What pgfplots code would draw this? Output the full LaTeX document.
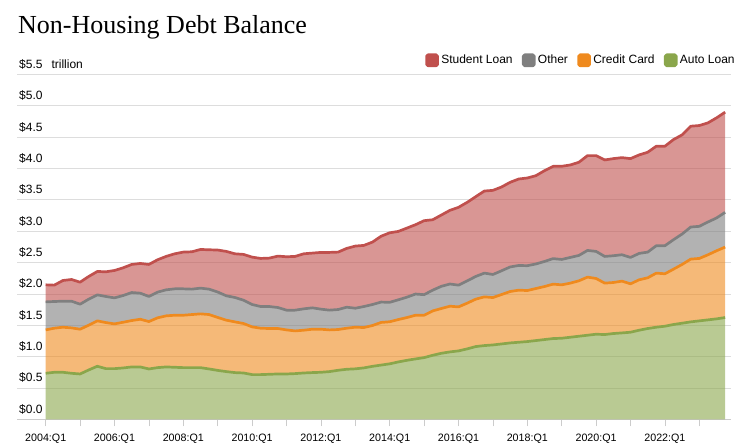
\documentclass[border=0pt]{standalone}
\usepackage{pgfplots}
\pgfplotsset{compat=1.18}
\usepackage{pgfplotstable}
\usepgfplotslibrary{fillbetween}
\usepackage{fontspec}
\setmainfont{Liberation Sans}
\newfontfamily\titlefont{Liberation Serif}
\definecolor{cRed}{HTML}{C0504D}
\definecolor{cGray}{HTML}{7F7F7F}
\definecolor{cOrange}{HTML}{EF8A1E}
\definecolor{cGreen}{HTML}{8AA64B}
\definecolor{gridgray}{HTML}{DDDDDD}
\definecolor{axisgray}{HTML}{CCCCCC}
\pgfplotstableread{
i A C O S
0 0.734 0.692 0.447 0.272
1 0.750 0.703 0.426 0.261
2 0.750 0.719 0.415 0.330
3 0.734 0.724 0.426 0.346
4 0.723 0.714 0.399 0.351
5 0.787 0.714 0.415 0.362
6 0.846 0.724 0.415 0.373
7 0.808 0.735 0.416 0.394
8 0.808 0.714 0.415 0.437
9 0.819 0.729 0.426 0.442
10 0.835 0.740 0.447 0.448
11 0.835 0.761 0.416 0.474
12 0.803 0.756 0.400 0.511
13 0.824 0.794 0.410 0.516
14 0.835 0.815 0.415 0.533
15 0.830 0.830 0.421 0.559
16 0.824 0.836 0.421 0.586
17 0.824 0.847 0.405 0.596
18 0.824 0.858 0.410 0.617
19 0.803 0.868 0.405 0.628
20 0.780 0.845 0.405 0.670
21 0.761 0.820 0.389 0.708
22 0.745 0.809 0.389 0.697
23 0.739 0.789 0.372 0.730
24 0.713 0.761 0.357 0.756
25 0.713 0.740 0.346 0.767
26 0.718 0.730 0.351 0.772
27 0.723 0.725 0.335 0.820
28 0.723 0.703 0.315 0.852
29 0.729 0.681 0.331 0.857
30 0.739 0.682 0.341 0.878
31 0.745 0.692 0.341 0.873
32 0.750 0.687 0.320 0.905
33 0.761 0.665 0.315 0.921
34 0.782 0.650 0.319 0.916
35 0.798 0.655 0.335 0.938
36 0.805 0.664 0.303 0.991
37 0.820 0.644 0.335 0.975
38 0.845 0.651 0.335 0.996
39 0.865 0.680 0.325 1.050
40 0.885 0.671 0.310 1.109
41 0.915 0.676 0.315 1.091
42 0.941 0.682 0.325 1.102
43 0.963 0.697 0.338 1.106
44 0.984 0.676 0.328 1.180
45 1.021 0.708 0.331 1.123
46 1.053 0.714 0.354 1.137
47 1.075 0.729 0.354 1.175
48 1.091 0.702 0.347 1.241
49 1.123 0.729 0.356 1.252
50 1.160 0.756 0.362 1.273
51 1.176 0.777 0.379 1.309
52 1.186 0.756 0.368 1.342
53 1.202 0.788 0.379 1.336
54 1.218 0.820 0.392 1.350
55 1.229 0.831 0.394 1.379
56 1.240 0.814 0.396 1.399
57 1.256 0.830 0.392 1.408
58 1.272 0.846 0.400 1.448
59 1.288 0.868 0.407 1.472
60 1.293 0.852 0.405 1.486
61 1.309 0.863 0.410 1.475
62 1.325 0.884 0.405 1.486
63 1.341 0.927 0.426 1.512
64 1.357 0.889 0.432 1.528
65 1.352 0.820 0.426 1.539
66 1.368 0.814 0.427 1.549
67 1.378 0.826 0.421 1.549
68 1.389 0.772 0.421 1.576
69 1.421 0.804 0.421 1.571
70 1.448 0.809 0.410 1.593
71 1.469 0.863 0.437 1.587
72 1.485 0.836 0.448 1.587
73 1.512 0.883 0.470 1.597
74 1.533 0.937 0.485 1.582
75 1.554 1.001 0.512 1.608
76 1.570 0.996 0.512 1.608
77 1.586 1.038 0.523 1.581
78 1.602 1.086 0.523 1.597
79 1.623 1.124 0.554 1.598
}\debt
\begin{document}
\begin{tikzpicture}[x=1pt,y=1pt]
\node[anchor=base west, inner sep=0pt, font=\titlefont\fontsize{26}{30}\selectfont] at (18,413.7) {Non-Housing Debt Balance};
\begin{axis}[
  set layers,
  at={(17pt,27.7pt)}, anchor=south west,
  scale only axis, width=713.7pt, height=344.8pt,
  xmin=-3.337, xmax=79.65, ymin=0, ymax=5.5,
  axis x line*=bottom, axis y line*=left,
  x axis line style={draw=axisgray, line width=0.8pt},
  y axis line style={draw=none},
  ymajorgrids, grid style={draw=gridgray, line width=0.8pt},
  ytick={0,0.5,...,5.5},
  yticklabels={\$0.0,\$0.5,\$1.0,\$1.5,\$2.0,\$2.5,\$3.0,\$3.5,\$4.0,\$4.5,\$5.0,\$5.5\hspace{9pt}trillion},
  ytick style={draw=none},
  yticklabel style={anchor=base west, inner sep=0pt, xshift=9pt, yshift=6pt, font=\fontsize{12}{14}\selectfont},
  xtick={0,4,...,76},
  xticklabels={2004:Q1,{},2006:Q1,{},2008:Q1,{},2010:Q1,{},2012:Q1,{},2014:Q1,{},2016:Q1,{},2018:Q1,{},2020:Q1,{},2022:Q1,{}},
  tick align=outside, major tick length=7pt,
  xtick style={draw=axisgray, line width=0.8pt},
  xticklabel style={anchor=north, inner sep=0pt, yshift=-7.5pt, font=\fontsize{10.7}{12}\selectfont},
  legend columns=4,
  legend style={draw=none, fill=none, at={(1.0100,1.0412)}, anchor=east,
    font=\fontsize{12}{14}\selectfont, nodes={inner sep=0pt},
    /tikz/every odd column/.append style={column sep=2.3pt},
    /tikz/every even column/.append style={column sep=9.3pt}},
  legend cell align=left,
]
\addplot[forget plot, draw=none, name path=base] coordinates {(0,0) (79,0)};
\addplot[draw=cRed, line width=2.7pt, line join=round, name path=R,
  legend image code/.code={\fill[cRed, rounded corners=1.5pt] (0pt,-5.5pt) rectangle (11pt,5.5pt);}]
  table[x=i, y expr=\thisrow{A}+\thisrow{C}+\thisrow{O}+\thisrow{S}] {\debt};
\addlegendentry{Student Loan}
\addplot[draw=cGray, line width=2.7pt, line join=round, name path=Gr,
  legend image code/.code={\fill[cGray, rounded corners=1.5pt] (0pt,-5.5pt) rectangle (11pt,5.5pt);}]
  table[x=i, y expr=\thisrow{A}+\thisrow{C}+\thisrow{O}] {\debt};
\addlegendentry{Other}
\addplot[draw=cOrange, line width=2.7pt, line join=round, name path=Or,
  legend image code/.code={\fill[cOrange, rounded corners=1.5pt] (0pt,-5.5pt) rectangle (11pt,5.5pt);}]
  table[x=i, y expr=\thisrow{A}+\thisrow{C}] {\debt};
\addlegendentry{Credit Card}
\addplot[draw=cGreen, line width=2.7pt, line join=round, name path=G,
  legend image code/.code={\fill[cGreen, rounded corners=1.5pt] (0pt,-5.5pt) rectangle (11pt,5.5pt);}]
  table[x=i, y=A] {\debt};
\addlegendentry{Auto Loan}
\addplot[forget plot, fill=cGreen, fill opacity=0.6, draw=none] fill between[of=G and base];
\addplot[forget plot, fill=cOrange, fill opacity=0.6, draw=none] fill between[of=Or and G];
\addplot[forget plot, fill=cGray, fill opacity=0.6, draw=none] fill between[of=Gr and Or];
\addplot[forget plot, fill=cRed, fill opacity=0.6, draw=none] fill between[of=R and Gr];
\end{axis}
\pgfresetboundingbox
\path[use as bounding box] (0,0) rectangle (743,447);
\end{tikzpicture}
\end{document}
